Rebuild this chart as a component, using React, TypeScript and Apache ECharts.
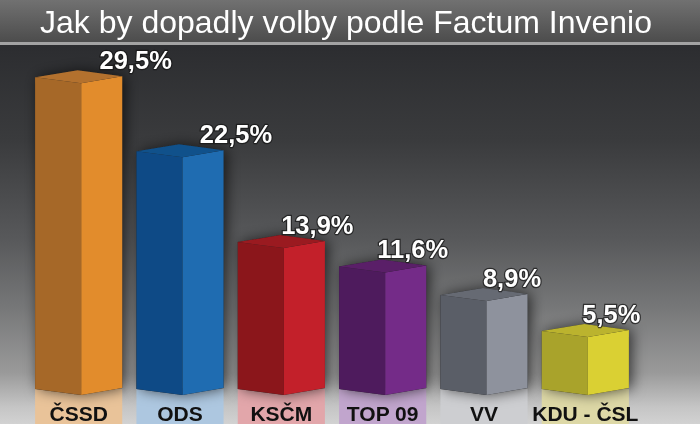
import React, { useEffect, useRef } from "react";
import * as echarts from "echarts";

const TITLE = "Jak by dopadly volby podle Factum Invenio";
const PARTIES = ["ČSSD", "ODS", "KSČM", "TOP 09", "VV", "KDU - ČSL"];
const RESULTS = [29.5, 22.5, 13.9, 11.6, 8.9, 5.5];

// style constants
const FACE_LEFT = ["#a66828", "#0e4a86", "#8b161b", "#4e1b5d", "#5a5e67", "#a9a32b"];
const FACE_RIGHT = ["#e28c2c", "#1f6cb1", "#c3202a", "#742b88", "#8e929d", "#dad033"];
const FACE_TOP = ["#b3712e", "#10518b", "#9a1a20", "#5a1f68", "#666a73", "#bbb32e"];
const TAG_BG = ["#e9c399", "#adc7e0", "#e2a6aa", "#c1a5cd", "#cdced1", "#ddd8a6"];
const LABEL_DX = [57, 56, 36, 30, 28, 26];
const FONT = '"Liberation Sans", Arial, Helvetica, sans-serif';

const fmt = (v: number) => v.toFixed(1).replace(".", ",") + "%";

export default function App() {
  const ref = useRef<HTMLDivElement>(null);
  useEffect(() => {
    if (!ref.current) return;
    const chart = echarts.init(ref.current, null, { renderer: "svg" });
    const H = 424;
    const bg = new echarts.graphic.LinearGradient(0, 0, 0, 1, [
      { offset: 0, color: "#717171" },
      { offset: 40 / H, color: "#4e4e4e" },
      { offset: 42 / H, color: "#4e4e4e" },
      { offset: 42 / H, color: "#a3a3a3" },
      { offset: 45 / H, color: "#a3a3a3" },
      { offset: 45 / H, color: "#2c2d30" },
      { offset: 140 / H, color: "#3a3b3d" },
      { offset: 240 / H, color: "#58595b" },
      { offset: 307 / H, color: "#767778" },
      { offset: 373 / H, color: "#9a9a9a" },
      { offset: 407 / H, color: "#c5c5c5" },
      { offset: 1, color: "#d2d2d2" },
    ]);
    const option: any = {
      animation: false,
      graphic: [
        {
          type: "rect",
          z: -10,
          silent: true,
          shape: { x: 0, y: 0, width: 700, height: H },
          style: { fill: bg },
        },
        {
          type: "text",
          z: 10,
          x: 346,
          y: 22,
          style: {
            text: TITLE,
            fill: "#ffffff",
            font: `32px ${FONT}`,
            align: "center",
            verticalAlign: "middle",
            shadowBlur: 3,
            shadowColor: "rgba(0,0,0,0.6)",
            shadowOffsetY: 1,
          },
        },
      ],
      grid: { left: 28, right: 64, top: 78, bottom: 29 },
      xAxis: { type: "category", data: PARTIES, show: false },
      yAxis: { type: "value", min: 0, max: 30, show: false },
      series: [
        {
          type: "custom",
          clip: false,
          data: RESULTS.map((v, i) => [i, v]),
          encode: { x: 0, y: 1 },
          renderItem: (params: any, api: any) => {
            const i = params.dataIndex;
            const v = api.value(1);
            const top = api.coord([api.value(0), v]);
            const base = api.coord([api.value(0), 0]);
            const W = api.size([1, 0])[0];
            const c = top[0];
            const L = c - W * 0.43;
            const R = c + W * 0.43;
            const F = c + W * 0.025;
            const Bk = c - W * 0.01;
            const yT = top[1];
            const yB = base[1];
            const sl = 6, sr = 7, sb = 13;
            const silhouette = [
              [L, yT - sl], [Bk, yT - sb], [R, yT - sr], [R, yB - sr], [F, yB], [L, yB - sl],
            ];
            return {
              type: "group",
              children: [
                {
                  type: "rect",
                  shape: { x: L, y: yB - sl, width: R - L, height: 40 },
                  style: { fill: TAG_BG[i] },
                  z2: 0,
                },
                {
                  type: "polygon",
                  shape: { points: silhouette },
                  style: {
                    fill: "#222",
                    shadowBlur: 14,
                    shadowColor: "rgba(0,0,0,0.65)",
                    shadowOffsetX: 3,
                    shadowOffsetY: 0,
                  },
                  z2: 1,
                },
                {
                  type: "polygon",
                  shape: { points: [[L, yT - sl], [F, yT], [F, yB], [L, yB - sl]] },
                  style: { fill: FACE_LEFT[i] },
                  z2: 2,
                },
                {
                  type: "polygon",
                  shape: { points: [[F, yT], [R, yT - sr], [R, yB - sr], [F, yB]] },
                  style: { fill: FACE_RIGHT[i] },
                  z2: 2,
                },
                {
                  type: "polygon",
                  shape: { points: [[L, yT - sl], [Bk, yT - sb], [R, yT - sr], [F, yT]] },
                  style: { fill: FACE_TOP[i] },
                  z2: 3,
                },
                {
                  type: "text",
                  x: c,
                  y: 413,
                  style: {
                    text: PARTIES[i],
                    fill: "#111111",
                    font: `bold 21px ${FONT}`,
                    align: "center",
                    verticalAlign: "middle",
                  },
                  z2: 4,
                },
                {
                  type: "text",
                  x: c + LABEL_DX[i],
                  y: yT - 23,
                  style: {
                    text: fmt(v),
                    fill: "#ffffff",
                    font: `bold 25.5px ${FONT}`,
                    align: "center",
                    verticalAlign: "middle",
                    stroke: "rgba(20,20,20,0.7)",
                    lineWidth: 2.5,
                    shadowBlur: 6,
                    shadowColor: "rgba(0,0,0,0.95)",
                    shadowOffsetX: 1,
                    shadowOffsetY: 1,
                  },
                  z2: 5,
                },
              ],
            };
          },
        },
      ],
    };
    chart.setOption(option);
    return () => chart.dispose();
  }, []);
  return (
    <div
      ref={ref}
      style={{ position: "fixed", left: 0, top: 0, width: 700, height: 424 }}
    />
  );
}
